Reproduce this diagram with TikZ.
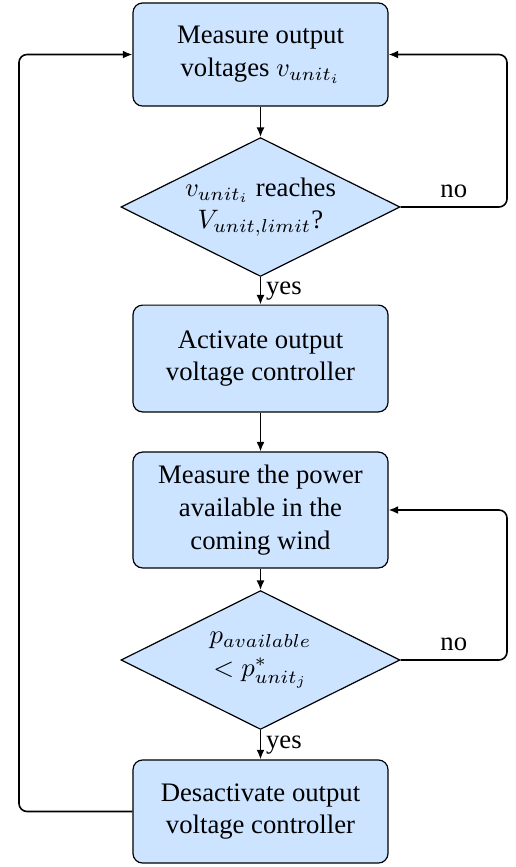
\documentclass[tikz,border=0pt]{standalone}
\usepackage{fontspec}
\setmainfont{Liberation Serif}
\usetikzlibrary{shapes.geometric,arrows.meta}
\definecolor{boxfill}{RGB}{204,228,255}
\begin{document}
\begin{tikzpicture}[x=0.3745pt,y=-0.3745pt,
  font=\fontsize{10pt}{12.3pt}\selectfont,
  procbox/.style={draw=black, line width=0.45pt, fill=boxfill, rounded corners=3.6pt,
    minimum width=95.5pt, align=center, inner sep=0pt},
  decbox/.style={draw=black, line width=0.45pt, fill=boxfill, diamond,
    minimum width=104.5pt, minimum height=52pt, inner sep=0pt},
  flow/.style={line width=0.6pt, -{Latex[length=3.6pt,width=3pt]}, rounded corners=3pt},
  lbl/.style={inner sep=1pt}]
\useasboundingbox (0,0) rectangle (515,867);
\node[procbox, minimum height=38.6pt] (b1) at (260.5,54.5) {Measure output\\voltages $v_{unit_i}$};
\node[decbox, label={[align=center]center:{$v_{unit_i}$ reaches\\$V_{unit,limit}$?}}] (d1) at (260.5,207) {};
\node[procbox, minimum height=40pt] (b2) at (260.5,358.5) {Activate output\\voltage controller};
\node[procbox, minimum height=43.4pt] (b3) at (260.5,510) {Measure the power\\available in the\\coming wind};
\node[decbox, label={[align=center]center:{$p_{available}$\\$<p^*_{unit_j}$}}] (d2) at (260.5,660) {};
\node[procbox, minimum height=38.6pt] (b4) at (260.5,811.5) {Desactivate output\\voltage controller};
\coordinate (r1) at (507,207);
\coordinate (r2) at (507,660);
\coordinate (l1) at (19,811.5);
\draw[flow] (b1) -- (d1);
\draw[flow] (d1) -- node[lbl, right, pos=0.5, xshift=0.8pt] {yes} (b2);
\draw[flow] (b2) -- (b3);
\draw[flow] (b3) -- (d2);
\draw[flow] (d2) -- node[lbl, right, pos=0.5, xshift=0.8pt] {yes} (b4);
\draw[flow] (d1.east) -- node[lbl, above, pos=0.5, yshift=2pt] {no} (r1) |- (b1.east);
\draw[flow] (d2.east) -- node[lbl, above, pos=0.5, yshift=2pt] {no} (r2) |- (b3.east);
\draw[flow] (b4.west) -- (l1) |- (b1.west);
\end{tikzpicture}
\end{document}
